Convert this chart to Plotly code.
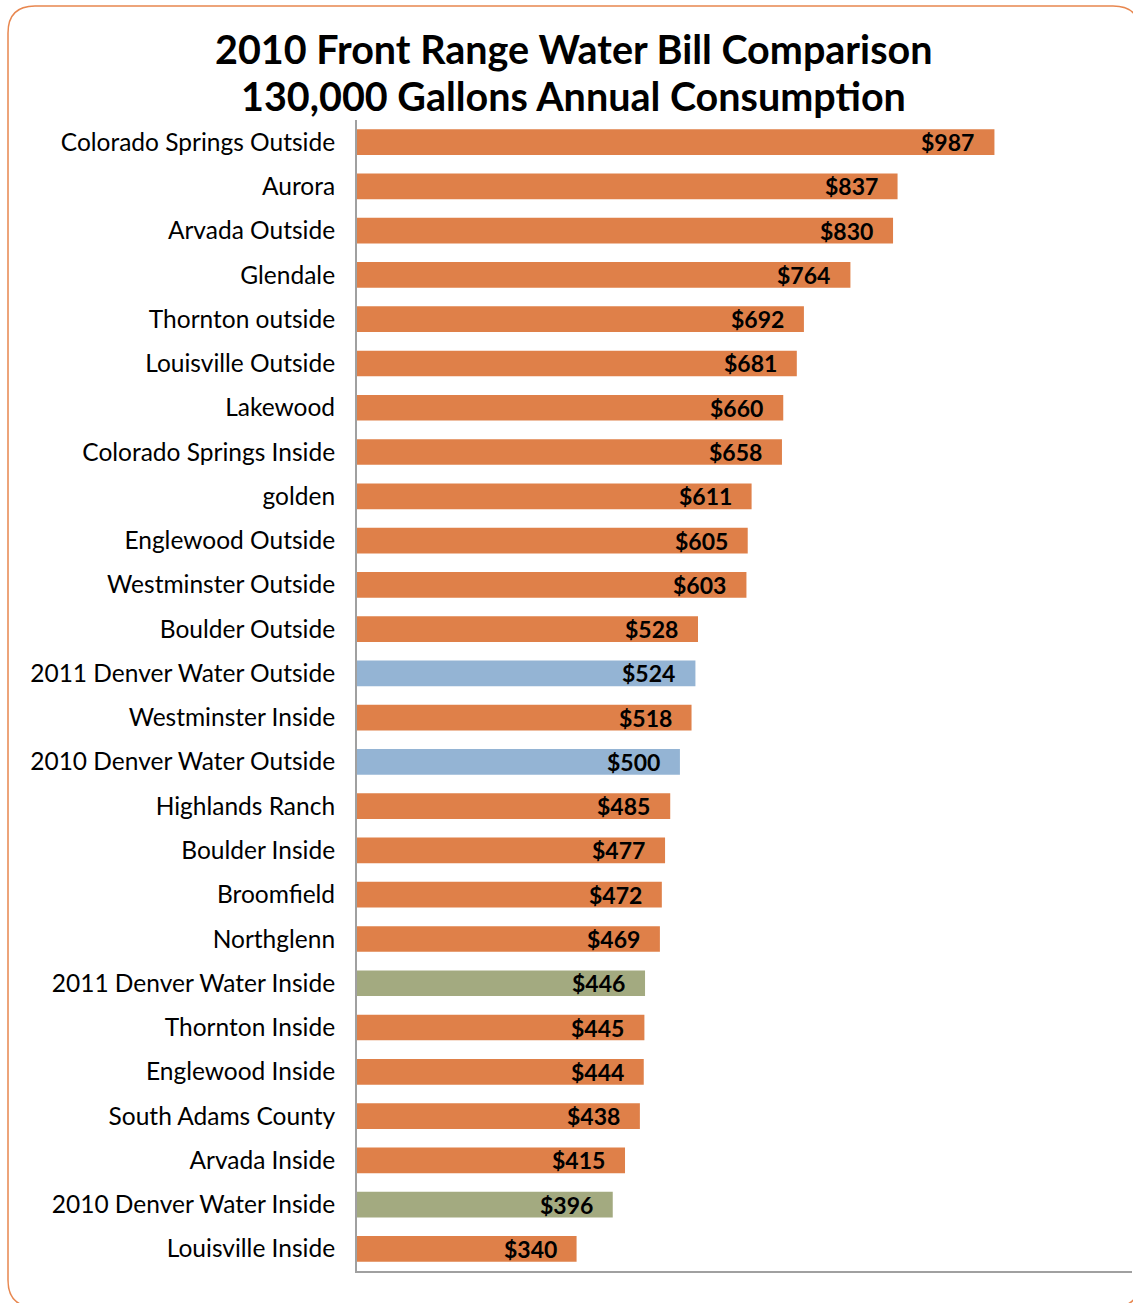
import plotly.graph_objects as go

categories = [
    "Colorado Springs Outside", "Aurora", "Arvada Outside", "Glendale",
    "Thornton outside", "Louisville Outside", "Lakewood", "Colorado Springs Inside",
    "golden", "Englewood Outside", "Westminster Outside", "Boulder Outside",
    "2011 Denver Water Outside", "Westminster Inside", "2010 Denver Water Outside",
    "Highlands Ranch", "Boulder Inside", "Broomfield", "Northglenn",
    "2011 Denver Water Inside", "Thornton Inside", "Englewood Inside",
    "South Adams County", "Arvada Inside", "2010 Denver Water Inside", "Louisville Inside",
]
values = [987, 837, 830, 764, 692, 681, 660, 658, 611, 605, 603, 528,
          524, 518, 500, 485, 477, 472, 469, 446, 445, 444, 438, 415, 396, 340]
groups = ["other"] * 12 + ["denver_outside", "other", "denver_outside"] + ["other"] * 4 + \
         ["denver_inside", "other", "other", "other", "other", "denver_inside", "other"]
labels = [f"${v}" for v in values]
title_lines = ["2010 Front Range Water Bill Comparison", "130,000 Gallons Annual Consumption"]

group_colors = {"other": "#DF8049", "denver_outside": "#94B4D4", "denver_inside": "#A3AA80"}

W, H = 1133, 1303
ML, MR, MT, MB = 357, 1, 120, 32
PW, PH = W - ML - MR, H - MT - MB

fig = go.Figure()
fig.add_trace(go.Bar(
    y=categories, x=values, orientation="h",
    marker=dict(color=[group_colors[g] for g in groups], line=dict(width=0)),
    width=0.58, hoverinfo="x+y",
))

for c, v, t in zip(categories, values, labels):
    fig.add_annotation(x=v, y=c, xref="x", yref="y", text=f"<b>{t}</b>",
                       showarrow=False, xanchor="right", yanchor="middle", xshift=-18,
                       font=dict(family="Lato", size=23, color="#000000"))

def px(x):
    return (x - ML) / PW

def py(y):
    return (MT + PH - y) / PH

# title as two centered lines
for line, yc in zip(title_lines, [48, 95]):
    fig.add_annotation(x=px(573), y=py(yc), xref="paper", yref="paper",
                       text=f"<b>{line}</b>", showarrow=False,
                       xanchor="center", yanchor="middle",
                       font=dict(family="Lato", size=39.5, color="#000000"))

# rounded border
L, T, R, B, r = 8, 6, 1140, 1307, 27
path = (f"M {px(L + r)},{py(T)} L {px(R - r)},{py(T)} Q {px(R)},{py(T)} {px(R)},{py(T + r)} "
        f"L {px(R)},{py(B - r)} Q {px(R)},{py(B)} {px(R - r)},{py(B)} "
        f"L {px(L + r)},{py(B)} Q {px(L)},{py(B)} {px(L)},{py(B - r)} "
        f"L {px(L)},{py(T + r)} Q {px(L)},{py(T)} {px(L + r)},{py(T)} Z")
fig.add_shape(type="path", path=path, xref="paper", yref="paper",
              line=dict(color="#E8874F", width=1.5), layer="below")

fig.update_layout(
    width=W, height=H,
    margin=dict(l=ML, r=MR, t=MT, b=MB, autoexpand=False),
    paper_bgcolor="white", plot_bgcolor="white",
    showlegend=False,
    bargap=0.42,
)
fig.update_xaxes(range=[0, 1200], showticklabels=False, showgrid=False, zeroline=False,
                 showline=True, linecolor="#A0A0A0", linewidth=2, ticks="")
fig.update_yaxes(autorange="reversed", showgrid=False, zeroline=False,
                 showline=True, linecolor="#A0A0A0", linewidth=2, ticks="",
                 ticklabelstandoff=15,
                 tickfont=dict(family="Lato", size=24.5, color="#000000"))

fig.write_html("out.html")
